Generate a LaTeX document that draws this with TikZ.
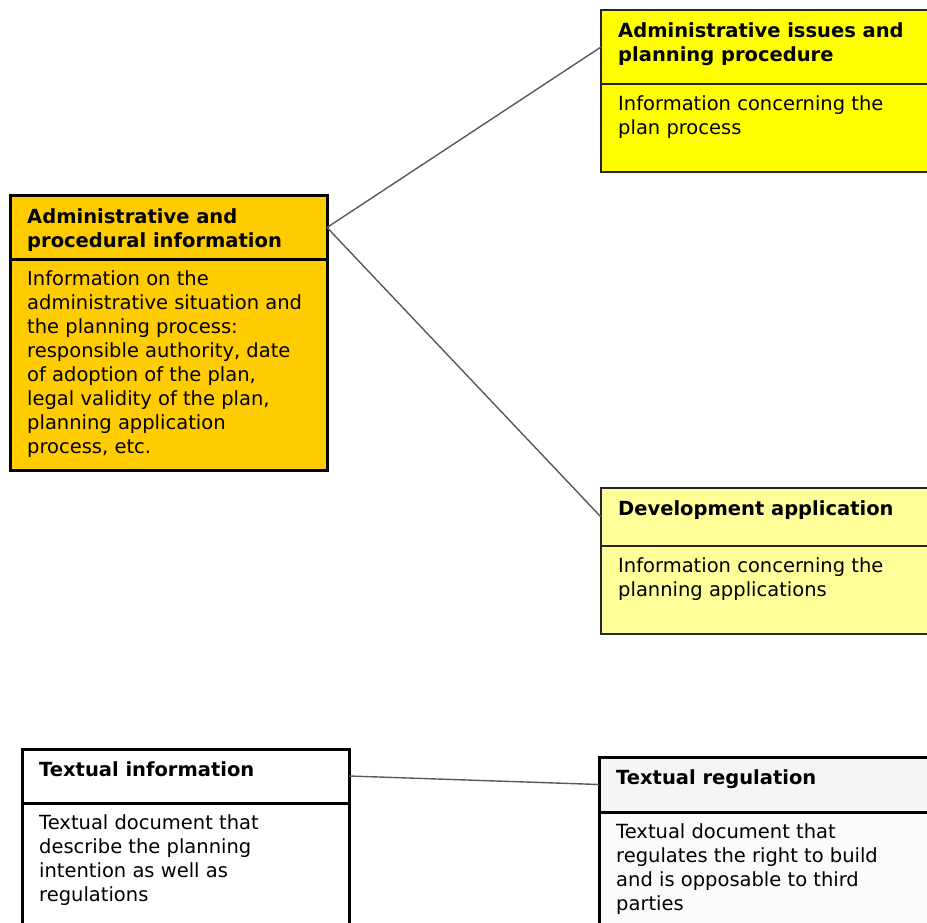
\documentclass[tikz,border=0pt]{standalone}
\usepackage{fontspec}
\setmainfont{DejaVu Sans}
\definecolor{procorange}{HTML}{FFCC00}
\definecolor{issueyellow}{HTML}{FFFF00}
\definecolor{devyellow}{HTML}{FFFF99}
\definecolor{reggray}{HTML}{F5F5F5}
\tikzset{
  frame/.style={draw, anchor=north west, outer sep=0pt, line width=3pt},
  thinframe/.style={draw=black!85, anchor=north west, outer sep=0pt, line width=1.6pt},
  title/.style={anchor=north west, align=left, inner xsep=17pt, inner ysep=12pt,
    font=\fontsize{19.5}{24}\selectfont\bfseries},
  descr/.style={anchor=north west, align=left, inner xsep=17pt, inner ysep=11.5pt,
    font=\fontsize{19.5}{24}\selectfont},
  link/.style={draw=black!65, line width=1.4pt}
}
\begin{document}
\begin{tikzpicture}[x=1pt, y=-1pt]
  \useasboundingbox (0,0) rectangle (927,923);
  \clip (0,0) rectangle (927,923);

  % administrative and procedural information
  \node[frame, fill=procorange, minimum width=317, minimum height=63] (adm) at (10,196) {};
  \node[frame, fill=procorange, minimum width=317, minimum height=211] (adm-body) at (adm.south west) {};
  \node[title] at (adm.north west) {Administrative and\\procedural information};
  \node[descr] at (adm-body.north west) {Information on the\\administrative situation and\\the planning process:\\responsible authority, date\\of adoption of the plan,\\legal validity of the plan,\\planning application\\process, etc.};

  % administrative issues
  \node[thinframe, fill=issueyellow, minimum width=340, minimum height=74] (iss) at (601,10) {};
  \node[thinframe, fill=issueyellow, minimum width=340, minimum height=88] (iss-body) at (iss.south west) {};
  \node[title] at (iss.north west) {Administrative issues and\\planning procedure};
  \node[descr] at (iss-body.north west) {Information concerning the\\plan process};

  % development application
  \node[thinframe, fill=devyellow, minimum width=340, minimum height=58] (dev) at (601,488) {};
  \node[thinframe, fill=devyellow, minimum width=340, minimum height=88] (dev-body) at (dev.south west) {};
  \node[title] at (dev.north west) {Development application};
  \node[descr] at (dev-body.north west) {Information concerning the\\planning applications};

  % textual information
  \node[frame, fill=white, minimum width=327, minimum height=54] (txt) at (22,749) {};
  \node[frame, fill=white, minimum width=327, minimum height=140] (txt-body) at (txt.south west) {};
  \node[title] at (txt.north west) {Textual information};
  \node[descr] at (txt-body.north west) {Textual document that\\describe the planning\\intention as well as\\regulations};

  % textual regulation
  \node[frame, fill=reggray, minimum width=340, minimum height=55] (reg) at (599,757) {};
  \node[frame, fill=white!60!reggray, minimum width=340, minimum height=130] (reg-body) at (reg.south west) {};
  \node[title] at (reg.north west) {Textual regulation};
  \node[descr] at (reg-body.north west) {Textual document that\\regulates the right to build\\and is opposable to third\\parties};

  \draw[link] (adm.east) -- (iss.west);
  \draw[link] (adm.east) -- (dev.west);
  \draw[link] (txt.east) -- (reg.west);
\end{tikzpicture}
\end{document}
